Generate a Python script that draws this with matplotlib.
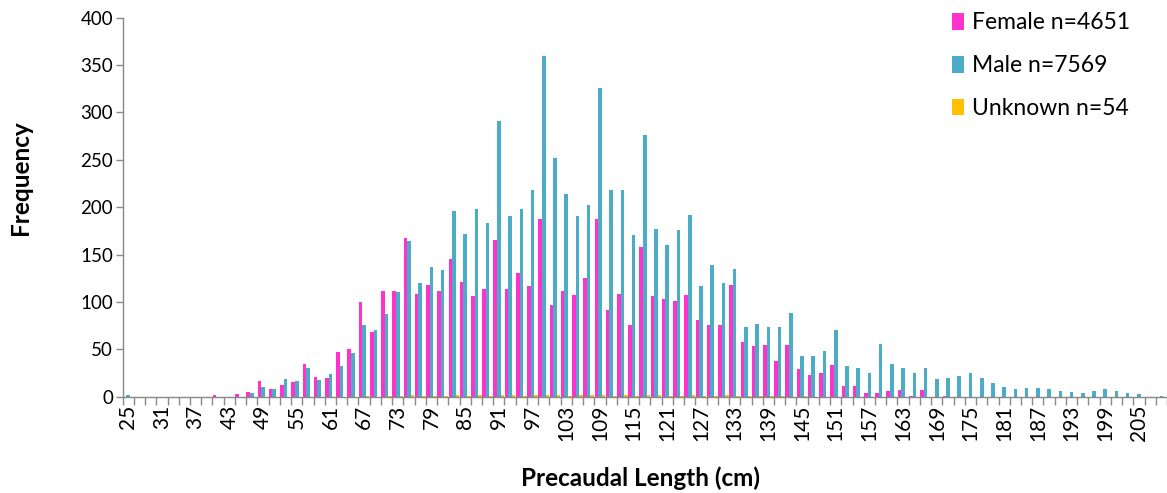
import numpy as np
import matplotlib
matplotlib.use("Agg")
import matplotlib.pyplot as plt
from matplotlib.patches import Patch

plt.rcParams['font.family'] = ['Lato', 'DejaVu Sans']

# length classes (cm), one bar group every 2 cm
lengths = list(range(25, 211, 2))

female = [0, 0, 0, 0, 0, 0, 0, 0, 2, 0,            # 25-43
          3, 5, 17, 8, 12, 16, 35, 21, 20, 47,      # 45-63
          50, 100, 68, 112, 112, 167, 108, 118, 112, 145,   # 65-83
          121, 106, 114, 165, 114, 130, 117, 187, 97, 112,  # 85-103
          107, 125, 187, 91, 108, 76, 158, 106, 103, 101,   # 105-123
          107, 81, 76, 76, 118, 58, 53, 55, 38, 55,  # 125-143
          29, 23, 25, 33, 11, 11, 4, 4, 6, 7,        # 145-163
          1, 7, 0, 1, 0, 0, 0, 0, 0, 0,              # 165-183
          0, 0, 0, 0, 0, 0, 0, 0, 0, 0,              # 185-203
          0, 0, 0]                                    # 205-209

male = [2, 0, 0, 0, 0, 0, 0, 0, 0, 0,
        0, 4, 10, 8, 19, 17, 30, 18, 24, 32,
        46, 76, 70, 87, 110, 164, 120, 137, 134, 196,
        172, 198, 183, 291, 191, 198, 218, 359, 252, 214,
        191, 202, 326, 218, 218, 171, 276, 177, 160, 176,
        192, 117, 139, 120, 135, 74, 77, 74, 74, 88,
        43, 43, 48, 70, 32, 30, 25, 56, 34, 30,
        25, 30, 19, 20, 22, 25, 20, 14, 10, 8,
        9, 9, 8, 6, 5, 4, 6, 8, 6, 4,
        3, 0, 1]

unknown = [0, 0, 0, 0, 0, 0, 0, 0, 0, 0,
           0, 0, 0, 0, 0, 0, 0, 0, 0, 0,
           0, 1, 0, 1, 1, 2, 1, 1, 1, 2,
           1, 2, 1, 2, 2, 1, 2, 2, 2, 1,
           2, 2, 2, 1, 2, 1, 2, 2, 1, 1,
           2, 1, 1, 2, 1, 1, 1, 1, 1, 0,
           1, 0, 0, 0, 0, 0, 0, 0, 0, 0,
           0, 0, 0, 0, 0, 0, 0, 0, 0, 0,
           0, 0, 0, 0, 0, 0, 0, 0, 0, 0,
           0, 0, 0]

series_labels = ["Female n=4651", "Male n=7569", "Unknown n=54"]
colors = ["#FF33CC", "#4BACC6", "#FFC000"]

fig = plt.figure(figsize=(11.67, 4.93), dpi=100)
ax = fig.add_axes([0.1051, 0.1953, 0.8949, 0.7692])

x = np.arange(len(lengths))
w = 0.32
for i, vals in enumerate([female, male, unknown]):
    ax.bar(x + (i - 1) * w, vals, width=w, color=colors[i], linewidth=0)

ax.set_xlim(-0.5, 92.25)
ax.set_ylim(0, 400)
ax.set_yticks(np.arange(0, 401, 50))

# labels every 3rd class, tick marks on class boundaries
ax.set_xticks(x[::3])
ax.set_xticklabels([str(v) for v in lengths[::3]], rotation=90)
ax.set_xticks(np.arange(-0.5, 93, 1), minor=True)
ax.tick_params(axis='x', which='major', length=0, pad=6, labelsize=15)
ax.tick_params(axis='x', which='minor', length=6, width=1, color='#888888', direction='out')
ax.tick_params(axis='y', length=5, width=1, color='#888888', direction='out', labelsize=13.5, pad=2)

for s in ['top', 'right']:
    ax.spines[s].set_visible(False)
for s in ['left', 'bottom']:
    ax.spines[s].set_color('#888888')
    ax.spines[s].set_linewidth(1)

fig.text(21 / 1167, 1 - 178 / 493, "Frequency", rotation=90, fontsize=17.5,
         fontweight='bold', ha='center', va='center')
fig.text(641 / 1167, 1 - 478 / 493, "Precaudal Length (cm)", fontsize=17.5,
         fontweight='bold', ha='center', va='center')

handles = [Patch(facecolor=c, edgecolor='none') for c in colors]
fig.legend(handles, series_labels, loc='upper left', bbox_to_anchor=(941 / 1167, 1 - 1 / 493),
           frameon=False, fontsize=16.5, handlelength=0.5, handleheight=0.75,
           handletextpad=0.35, labelspacing=0.95, borderpad=0)

fig.savefig("out.png", dpi=100)
